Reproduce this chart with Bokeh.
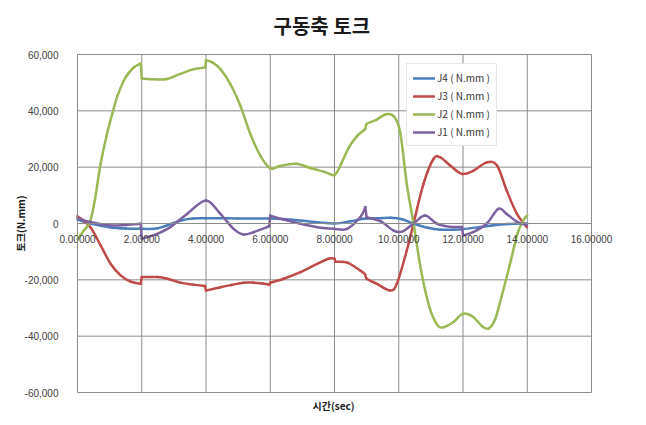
from bokeh.plotting import figure
from bokeh.models import (ColumnDataSource, Legend, LegendItem, Title,
                          NumeralTickFormatter, FixedTicker, Range1d)
from bokeh.embed import file_html
from bokeh.resources import INLINE

# ---- data ----
j4_t = [0.0, 0.4, 1.0, 1.5, 2.0, 2.5, 3.2, 3.6, 4.0, 5.0, 6.0, 6.5, 7.0, 7.5, 8.0,
        8.5, 8.9, 9.4, 9.75, 10.1, 10.46, 10.9, 11.3, 11.7, 12.0, 12.5, 12.9, 13.4, 14.0]
j4_v = [1400, 0, -1300, -1800, -1900, -1700, 1000, 1800, 1900, 1800, 1800, 1500, 1000, 400, 0,
        800, 1650, 1900, 2000, 1500, 0, -1500, -2200, -2200, -2000, -1300, -700, -200, 0]

j3_t = [0.0, 0.4, 0.72, 1.03, 1.34, 1.65, 1.97, 2.0, 2.48, 2.8, 3.2, 3.6, 3.97, 4.0, 4.45,
        4.8, 5.17, 5.48, 5.75, 5.97, 6.0, 6.42, 6.94, 7.46, 7.82, 8.0, 8.03, 8.4, 8.8, 8.95,
        9.0, 9.32, 9.73, 9.94, 10.25, 10.46, 10.77, 11.08, 11.29, 11.6, 11.97, 12.33, 12.74,
        13.06, 13.36, 13.68, 13.99]
j3_v = [2600, -1300, -7800, -14300, -18400, -20600, -21400, -19000, -19000, -19600, -21000,
        -21700, -22200, -23800, -22600, -21800, -21000, -21000, -21300, -21700, -21000, -19600,
        -17300, -14300, -12500, -12500, -13600, -13900, -16700, -18000, -19600, -21400, -23800,
        -21400, -9600, 0, 14100, 22900, 23500, 20600, 17600, 18800, 21700, 20600, 11700, 3400,
        -1300]

j2_t = [0.0, 0.2, 0.4, 0.55, 0.72, 0.9, 1.08, 1.25, 1.44, 1.6, 1.75, 1.97, 2.0, 2.4, 2.79,
        3.2, 3.62, 3.98, 4.0, 4.2, 4.45, 4.76, 5.07, 5.38, 5.69, 6.0, 6.3, 6.8, 7.3, 7.7, 8.0,
        8.2, 8.45, 8.7, 8.95, 9.0, 9.3, 9.6, 9.85, 10.05, 10.25, 10.46, 10.7, 10.95, 11.2, 11.4,
        11.7, 12.0, 12.3, 12.6, 12.8, 13.0, 13.2, 13.45, 13.7, 13.9, 14.0]
j2_v = [-5500, -2500, 1000, 9000, 21200, 31000, 38900, 45500, 50700, 53500, 55400, 56800,
        51500, 51200, 51300, 53100, 54800, 55400, 58000, 57200, 54800, 49500, 41800, 31800,
        24100, 19600, 20400, 21200, 19500, 18300, 17200, 21000, 27000, 31000, 33500, 35300,
        36800, 38800, 38000, 32000, 14000, 0, -17000, -29500, -36000, -36800, -35000, -32000,
        -33000, -36500, -37300, -34000, -26000, -15000, -3500, 1500, 2800]

j1_t = [0.0, 0.4, 1.03, 1.5, 1.97, 2.0, 2.48, 2.89, 3.41, 4.0, 4.45, 4.86, 5.17, 5.48, 5.9,
        5.97, 6.0, 6.42, 6.94, 7.46, 7.97, 8.39, 8.8, 8.96, 9.0, 9.43, 9.84, 10.1, 10.46, 10.82,
        11.18, 11.6, 11.97, 12.0, 12.33, 12.74, 13.1, 13.36, 13.68, 13.99]
j1_v = [1900, 500, -700, -500, -100, -5400, -3700, -1300, 3400, 8200, 3400, -1900, -3900,
        -3100, -1300, -900, 2800, 1400, -100, -1300, -1900, -1900, 2200, 5800, 2200, 800, -2500,
        -2900, 0, 2800, 0, -1200, -1200, -4300, -3000, 0, 5200, 3400, 600, -600]

names = ["J4 ( N.mm )", "J3 ( N.mm )", "J2 ( N.mm )", "J1 ( N.mm )"]
colors = ["#4A7EBB", "#BE4B48", "#98B954", "#7D60A0"]
x_ticks = [0, 2, 4, 6, 8, 10, 12, 14, 16]
y_ticks = [-60000, -40000, -20000, 0, 20000, 40000, 60000]

title_text = "구동축 토크"
x_label = "시간(sec)"
y_label = "토크(N.mm)"

KR = "Noto Sans CJK KR"
GRID = "#8C8C8C"

# ---- layout geometry (pixels) ----
W, H = 646, 425
PLOT_L, PLOT_R, PLOT_T, PLOT_B = 77, 591, 54, 392      # Excel plot area
FR_L, FR_R, FR_T, FR_B = 8, 640, 44, 400               # Bokeh frame (room for labels)
x_min, x_max = x_ticks[0], x_ticks[-1]
y_min, y_max = y_ticks[0], y_ticks[-1]
sx = (PLOT_R - PLOT_L) / (x_max - x_min)
sy = (PLOT_B - PLOT_T) / (y_max - y_min)
x_range = Range1d(x_min - (PLOT_L - FR_L) / sx, x_max + (FR_R - PLOT_R) / sx)
y_range = Range1d(y_min - (FR_B - PLOT_B) / sy, y_max + (PLOT_T - FR_T) / sy)


def smooth_segments(t, v, jump=0.05):
    """Excel-style smoothed line: cubic Bezier segments (Catmull-Rom control points);
    very close time steps are treated as sharp steps."""
    n = len(t)
    out = dict(x0=[], y0=[], x1=[], y1=[], cx0=[], cy0=[], cx1=[], cy1=[])
    for i in range(n - 1):
        a, b = i, i + 1
        if t[b] - t[a] < jump:
            c0 = (t[a], v[a])
            c1 = (t[b], v[b])
        else:
            p0 = i - 1 if (i > 0 and t[i] - t[i - 1] >= jump) else i
            p3 = i + 2 if (i + 2 < n and t[i + 2] - t[i + 1] >= jump) else i + 1
            cx0 = t[a] + (t[b] - t[p0]) / 6.0
            cy0 = v[a] + (v[b] - v[p0]) / 6.0
            cx1 = t[b] - (t[p3] - t[a]) / 6.0
            cy1 = v[b] - (v[p3] - v[a]) / 6.0
            cx0 = min(max(cx0, t[a]), t[b])
            cx1 = min(max(cx1, t[a]), t[b])
            c0 = (cx0, cy0)
            c1 = (cx1, cy1)
        out["x0"].append(t[a]); out["y0"].append(v[a])
        out["x1"].append(t[b]); out["y1"].append(v[b])
        out["cx0"].append(c0[0]); out["cy0"].append(c0[1])
        out["cx1"].append(c1[0]); out["cy1"].append(c1[1])
    return out


p = figure(frame_width=FR_R - FR_L, frame_height=FR_B - FR_T, output_backend="svg",
           toolbar_location=None, x_range=x_range, y_range=y_range,
           min_border_left=FR_L, min_border_right=W - FR_R,
           min_border_top=FR_T, min_border_bottom=H - FR_B)
p.background_fill_color = "white"
p.border_fill_color = "white"
p.outline_line_color = None
p.xgrid.visible = False
p.ygrid.visible = False

# gridlines of the plot area, from the tick arrays
p.segment(x0=x_ticks, x1=x_ticks, y0=[y_min] * len(x_ticks), y1=[y_max] * len(x_ticks),
          line_color=GRID, line_width=1)
p.segment(x0=[x_min] * len(y_ticks), x1=[x_max] * len(y_ticks), y0=y_ticks, y1=y_ticks,
          line_color=GRID, line_width=1)

p.title.text = title_text
p.title.align = "left"
p.title.offset = 273 - FR_L
p.title.text_font = KR
p.title.text_font_size = "20px"
p.title.text_font_style = "bold"
p.title.text_color = "#1a1a1a"
p.title.standoff = 9

# axes: Excel draws the category axis where y = 0 and the value axis at x = 0
xa = p.xaxis[0]
xa.fixed_location = 0
xa.bounds = (x_min, x_max)
xa.ticker = FixedTicker(ticks=x_ticks)
xa.formatter = NumeralTickFormatter(format="0.00000")
xa.major_tick_line_color = None
xa.minor_tick_line_color = None
xa.axis_line_color = GRID
xa.major_label_text_font = "Liberation Sans"
xa.major_label_text_font_size = "10px"
xa.major_label_text_color = "#404040"
xa.major_label_standoff = 5

ya = p.yaxis[0]
ya.fixed_location = 0
ya.bounds = (y_min, y_max)
ya.ticker = FixedTicker(ticks=y_ticks)
ya.formatter = NumeralTickFormatter(format="0,0")
ya.major_tick_line_color = None
ya.minor_tick_line_color = None
ya.axis_line_color = GRID
ya.major_label_text_font = "Liberation Sans"
ya.major_label_text_font_size = "10px"
ya.major_label_text_color = "#404040"
ya.major_label_standoff = 13
ya.axis_label = y_label
ya.axis_label_text_font = KR
ya.axis_label_text_font_size = "10px"
ya.axis_label_text_font_style = "bold"
ya.axis_label_text_color = "#1a1a1a"
ya.axis_label_standoff = -6

xt = Title(text=x_label, align="left", offset=312 - FR_L, text_font=KR,
           text_font_size="10px", text_font_style="bold", text_color="#1a1a1a", standoff=-9)
p.add_layout(xt, "below")

series = [(j4_t, j4_v), (j3_t, j3_v), (j2_t, j2_v), (j1_t, j1_v)]
leg_items = []
for (t, v), name, c in zip(series, names, colors):
    seg = ColumnDataSource(smooth_segments(t, v))
    r = p.bezier(x0="x0", y0="y0", x1="x1", y1="y1", cx0="cx0", cy0="cy0", cx1="cx1",
                 cy1="cy1", source=seg, line_color=c, line_width=2.5, line_cap="round")
    leg_items.append(LegendItem(label=name, renderers=[r]))

legend = Legend(items=leg_items, location=(406 - FR_L, FR_B - 146))
legend.label_text_font = KR
legend.label_text_font_size = "10px"
legend.label_text_color = "#333333"
legend.label_height = 14
legend.glyph_height = 14
legend.glyph_width = 22
legend.spacing = 3
legend.padding = 6
legend.margin = 0
legend.label_standoff = 2
legend.border_line_color = "#D0D0D0"
legend.background_fill_color = "white"
legend.background_fill_alpha = 1.0
p.add_layout(legend, "center")

open("out.html", "w").write(file_html(p, INLINE))
